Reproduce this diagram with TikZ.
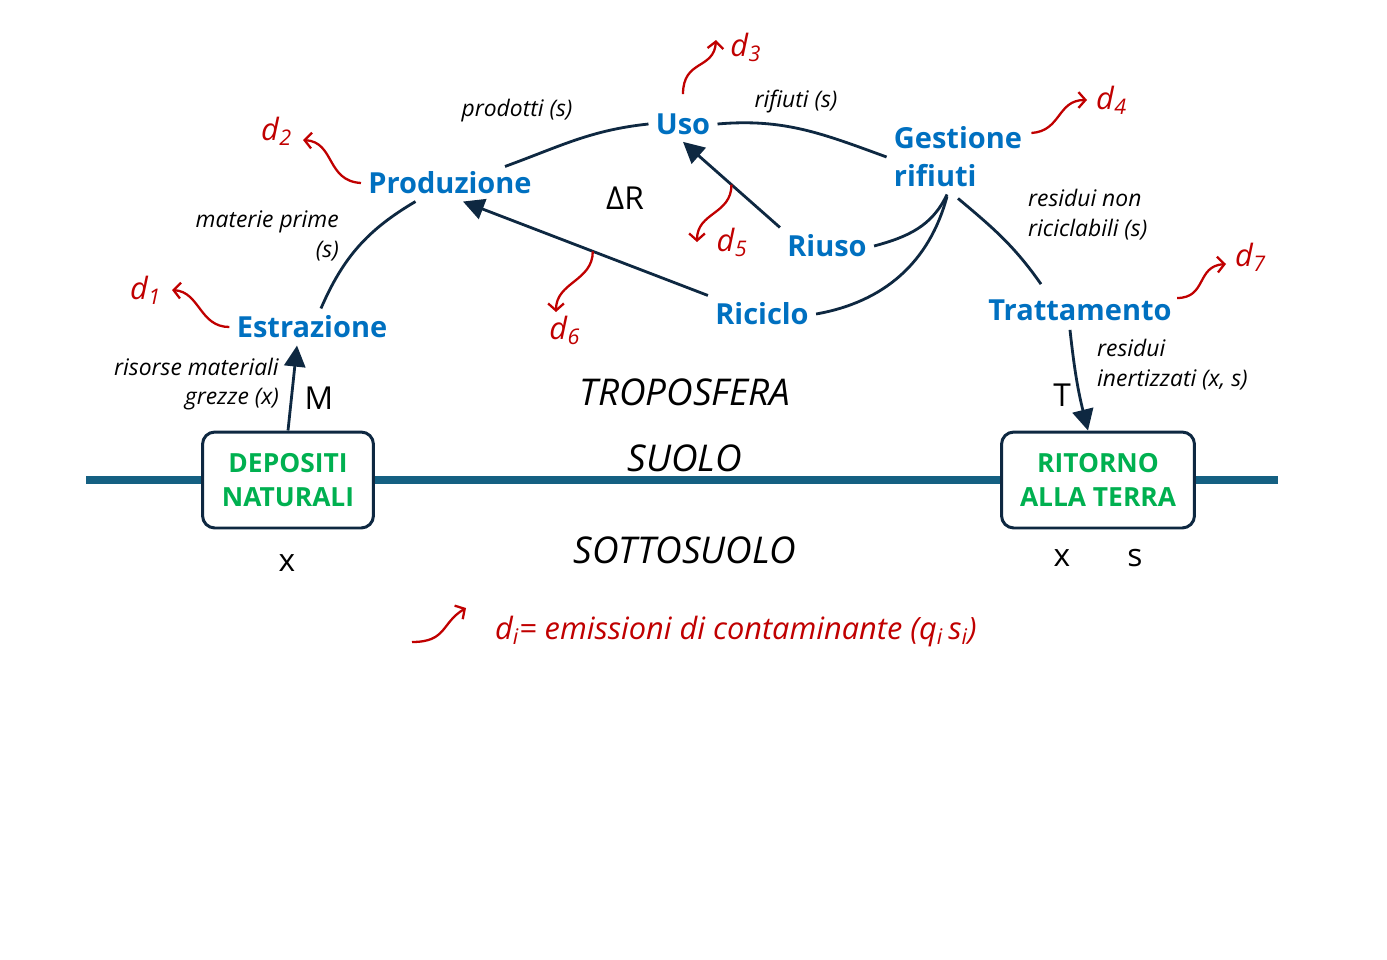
\documentclass[tikz,border=0pt]{standalone}
\usepackage{fontspec}
\setmainfont{Open Sans}
\usepackage{tikz}
\usetikzlibrary{arrows.meta, positioning, calc}
\usepackage{xcolor}
\definecolor{navy}{HTML}{0E2841}
\definecolor{stageblue}{HTML}{0070C0}
\definecolor{earthgreen}{HTML}{00B050}
\definecolor{emisred}{HTML}{C00000}
\definecolor{groundblue}{HTML}{156082}
\newcommand{\dlab}[1]{\textit{d}\textsubscript{\textit{#1}}}

\begin{document}
\begin{tikzpicture}[
    x=0.02cm, y=-0.02cm,
    stage/.style={text=stageblue, font=\bfseries\fontsize{16.5}{21.5}\selectfont, inner sep=4pt},
    lbl/.style={font=\itshape\fontsize{13}{17}\selectfont},
    layer/.style={font=\itshape\fontsize{21}{24}\selectfont},
    sym/.style={font=\fontsize{18}{21}\selectfont},
    dl/.style={text=emisred, font=\fontsize{17.5}{20}\selectfont, inner sep=1pt},
    earth/.style={draw=navy, line width=1.7pt, rounded corners=7pt, fill=white, text=earthgreen,
                  font=\bfseries\fontsize{15}{19.5}\selectfont, align=center, minimum height=1.92cm},
    flow/.style={draw=navy, line width=1.6pt},
    feed/.style={flow, -{Triangle[length=12pt, width=12pt]}},
    emis/.style={draw=emisred, line width=1.3pt, -{Straight Barb[length=4pt, width=9pt]}}
]
    \useasboundingbox (0,0) rectangle (1387,960);

    % Ground
    \draw[groundblue, line width=4pt] (86,480) -- (1278,480);

    % Nodes
    \node[earth, minimum width=3.42cm] (dep) at (288,480) {DEPOSITI\\NATURALI};
    \node[earth, minimum width=3.86cm] (rit) at (1098,480) {RITORNO\\ALLA TERRA};
    \node[stage] (estr) at (312,327) {Estrazione};
    \node[stage] (prod) at (450,183) {Produzione};
    \node[stage] (uso) at (683,124) {Uso};
    \node[stage, align=left] (gest) at (958,157) {Gestione\\rifiuti};
    \node[stage] (riuso) at (827,246) {Riuso};
    \node[stage] (ricic) at (762,314) {Riciclo};
    \node[stage] (tratt) at (1080,310) {Trattamento};

    % Labels
    \node[lbl] (lprod) at (517,111) {prodotti (s)};
    \node[lbl] (lrif) at (796,102) {rifiuti (s)};
    \node[lbl, align=right, anchor=east] (lmat) at (345,236) {materie prime\\(s)};
    \node[lbl, align=left, anchor=west] (lres) at (1022,215) {residui non\\riciclabili (s)};
    \node[lbl, align=right, anchor=east] (lris) at (285,384) {risorse materiali\\grezze (x)};
    \node[lbl, align=left, anchor=west] (liner) at (1091,365) {residui\\inertizzati (x, s)};
    \node[sym] (dr) at (625,198) {ΔR};
    \node[sym] (m) at (319,398) {M};
    \node[sym] (t) at (1062,395) {T};
    \node[sym] (x1) at (287,563) {x};
    \node[sym] (x2) at (1062,558) {x};
    \node[sym] (s2) at (1135,558) {s};
    \node[layer] (tropo) at (685,392) {TROPOSFERA};
    \node[layer] (suolo) at (685,458) {SUOLO};
    \node[layer] (sotto) at (685,550) {SOTTOSUOLO};

    % Flows
    \draw[flow] (estr) to[bend left=18] (prod);
    \draw[flow] ($(prod.north)+(55,2)$) to[out=20, in=186] (uso.west);
    \draw[flow] (uso.east) to[out=5, in=160] (gest.west);
    \draw[flow] ($(gest.south)+(-11,0)$) to[out=-115, in=15] (riuso.east);
    \draw[flow] ($(gest.south)+(-11,2)$) to[out=-105, in=10] (ricic.east);
    \draw[flow] ($(gest.south)+(0,4)$) to[out=-40, in=125] ($(tratt.north)+(-39,-8)$);
    \draw[feed] (riuso.north west) -- coordinate[pos=0.5] (m5) (uso.south);
    \draw[feed] (ricic.north west) -- coordinate[pos=0.47] (m6) ($(prod.south)+(13,0)$);
    \draw[feed] (dep.north) -- ($(estr.south)+(-15,0)$);
    \draw[feed] ($(tratt.south)+(-10,2)$) to[bend right=4] ($(rit.north)+(-10,0)$);

    % Emissions
    \coordinate (t1) at (172,290);
    \coordinate (t2) at (303,140);
    \coordinate (t3) at (716,40);
    \coordinate (t4) at (1087,100);
    \coordinate (t5) at (697,242);
    \coordinate (t6) at (556,312);
    \coordinate (t7) at (1226,264);
    \draw[emis] (estr.west) .. controls +(-30,0) and +(28,2) .. (t1);
    \draw[emis] (prod.west) .. controls +(-35,-2) and +(32,2) .. (t2);
    \draw[emis] ($(uso.north)+(0,-12)$) .. controls +(0,-35) and +(-2,30) .. (t3);
    \draw[emis] ($(gest.east)+(2,-24)$) .. controls +(30,-2) and +(-30,0) .. (t4);
    \draw[emis] (m5) .. controls +(0,30) and +(0,-30) .. (t5);
    \draw[emis] (m6) .. controls +(0,30) and +(0,-30) .. (t6);
    \draw[emis] ($(tratt.east)+(-2,-12)$) .. controls +(30,0) and +(-30,2) .. (t7);
    \node[dl, left=5pt of t1] (d1) {\dlab{1}};
    \node[dl, left=5pt of t2, yshift=5pt] (d2) {\dlab{2}};
    \node[dl, right=7pt of t3, yshift=-4pt] (d3) {\dlab{3}};
    \node[dl, right=4pt of t4] (d4) {\dlab{4}};
    \node[dl, right=10pt of t5] (d5) {\dlab{5}};
    \node[dl, below=1pt of t6, xshift=5pt] (d6) {\dlab{6}};
    \node[dl, right=4pt of t7, yshift=4pt] (d7) {\dlab{7}};

    % Legend
    \coordinate (ls) at (412,642);
    \coordinate (lt) at (466,608);
    \draw[emis] (ls) .. controls +(35,0) and +(-25,15) .. (lt);
    \node[dl, anchor=west, font=\itshape\fontsize{17.5}{20}\selectfont] (leg) at (493,631)
        {d\textsubscript{i}= emissioni di contaminante (q\textsubscript{i}\,s\textsubscript{i})};
\end{tikzpicture}
\end{document}
